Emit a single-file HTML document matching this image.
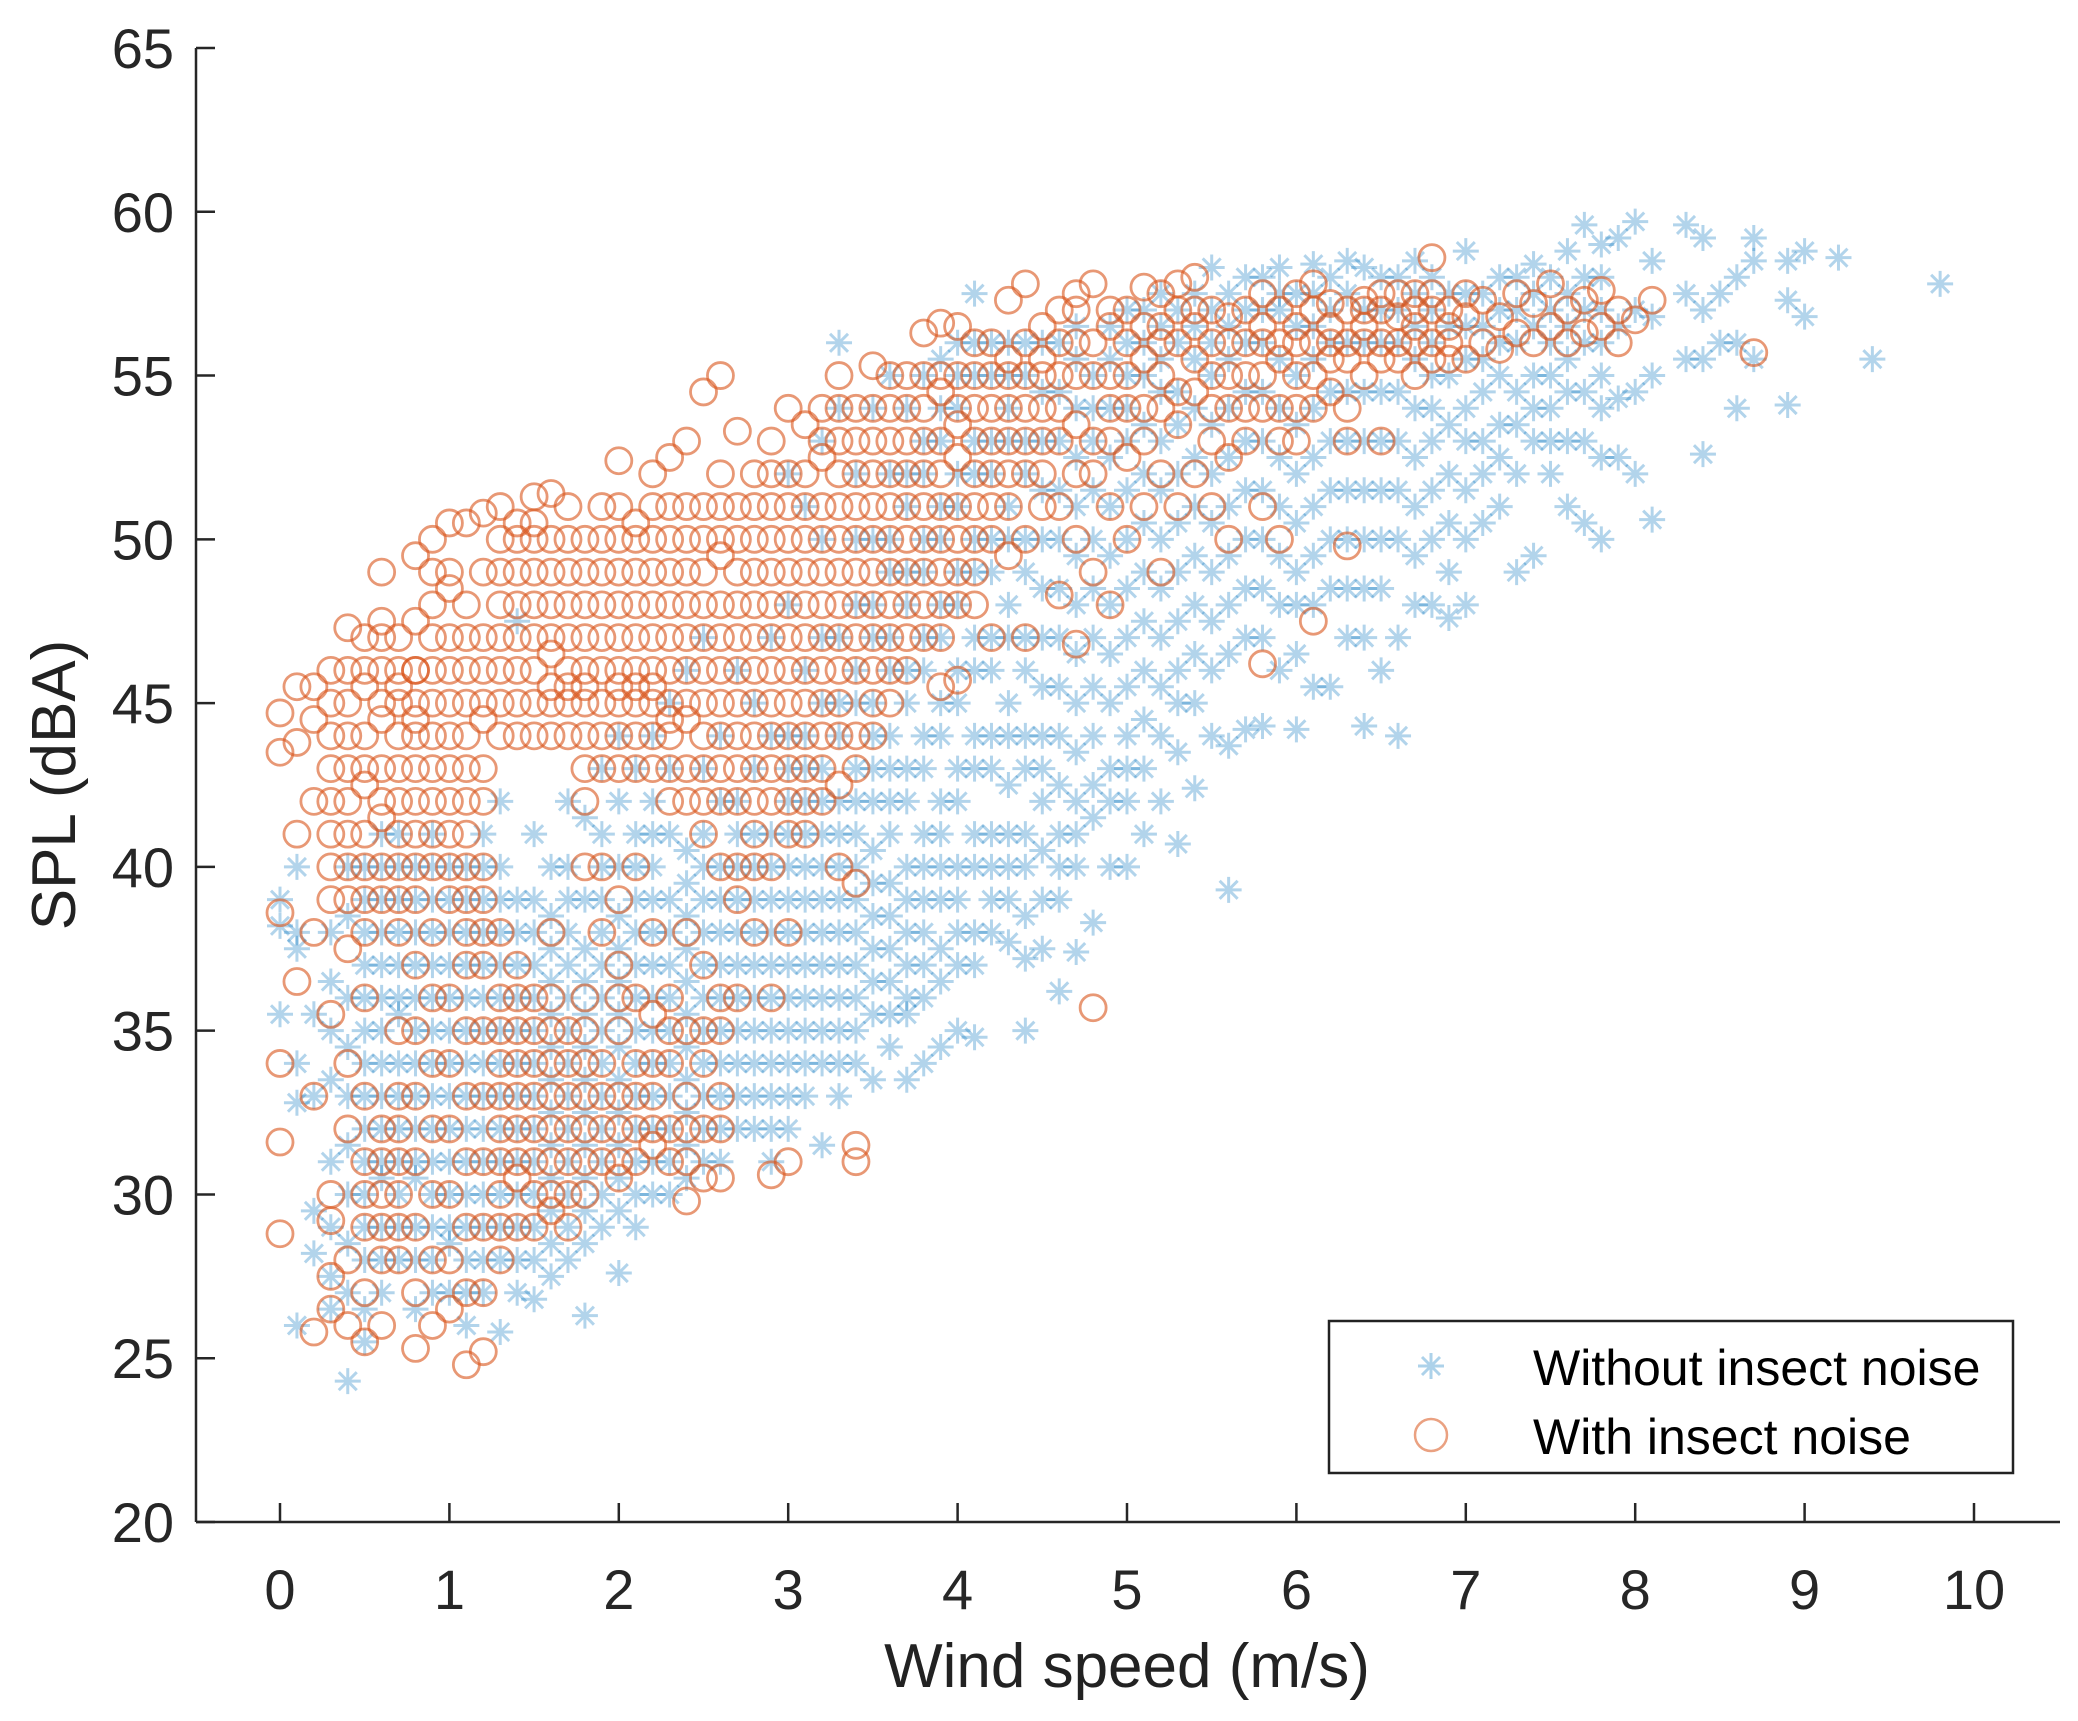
<!DOCTYPE html>
<html><head><meta charset="utf-8"><style>
html,body{margin:0;padding:0;background:#fff;}
svg{display:block;font-family:"Liberation Sans",Arial,sans-serif;}
</style></head><body>
<svg id="chart" width="2078" height="1721" viewBox="0 0 2078 1721" xmlns="http://www.w3.org/2000/svg">
<rect width="2078" height="1721" fill="#fff"/>
<g id="marks-blue"></g>
<g id="marks-orange"></g>
<g id="axes"></g>
<text x="1127" y="1687" font-size="62" text-anchor="middle" fill="#222">Wind speed (m/s)</text>
<text transform="translate(75,785) rotate(-90)" font-size="62" text-anchor="middle" fill="#222">SPL (dBA)</text>
<g>
<rect x="1329" y="1321" width="684" height="152" fill="#fff" stroke="#222" stroke-width="2.5"/>
<path d="M1431,1353V1379M1418,1366H1444M1422,1357L1440,1375M1422,1375L1440,1357" stroke="#0072BD" stroke-opacity="0.32" stroke-width="3" fill="none"/>
<text x="1533" y="1385" font-size="50" fill="#000">Without insect noise</text>
<circle cx="1431" cy="1435" r="16" fill="none" stroke="#D95319" stroke-opacity="0.55" stroke-width="2.5"/>
<text x="1533" y="1454" font-size="50" fill="#000">With insect noise</text>
</g>
</svg>
<script>
const xTicks=[0,1,2,3,4,5,6,7,8,9,10];
const yTicks=[20,25,30,35,40,45,50,55,60,65];
const blueCols=[
[0.0,[35.5,38.2,39]],[0.1,[38,40,37.5,34,32.8,26]],[0.2,[35.5,33,29.5,28.2]],[0.3,[36.5,31,27.5,26.5,33.5]],
[0.4,[24.3,27,30,38.5,36,33]],[0.5,[25.5,28,30,32,34,36,38,40,29,26.5]],[0.6,[27,29,31,33,35,37,39,41,30.5]],
[0.7,[28,30,32,34,36,38,40,35.5]],[0.8,[26.5,29,31,33,35,37,39,30.5]],[0.9,[27,29,31,33,35,37,39,41,34]],
[1.0,[27,28.5,30,32,34,36,38,40]],[1.1,[26,28,30,32,34,36,38,40,31]],[1.2,[27,29,31,33,35,37,39,41,38]],
[1.3,[25.8,28,30,32,34,36,38,40,42]],[1.4,[27,29,31,33,35,37,39,47.5]],[1.5,[26.8,29,31,33,35,37,39,41]],
[1.6,[27.5,29.5,31.5,33.5,35.5,37.5,40]],[1.7,[28,30,32,34,36,38,40,42]],[1.8,[26.3,28.5,30.5,32.5,34.5,36.5,39,41.5]],
[1.9,[29,31,33,35,37,39,41,43]],[2.0,[27.6,29.5,31.5,33.5,35.5,37.5,40,42,44]],[2.1,[29,31,33,35,37,39,41,43]],
[2.2,[30,32,34,36,38,40,42,44]],[2.3,[30,32,34,36,38,41,43,45]],[2.4,[30.5,32.5,34.5,36.5,38.5,40.5,46]],
[2.5,[31,33,35,37,39,41,43,47]],[2.6,[31,33,35,37,39,42,44]],[2.7,[32,34,36,38,40,42,46]],[2.8,[32,34,36,38,40,43,45]],
[2.9,[31,33,35,37,39,41,44,47]],[3.0,[32,34,36,38,40,42,44,48,52]],[3.1,[33,35,37,39,41,43,46,51]],
[3.2,[31.5,34,36,38,40,42,45,50,53]],[3.3,[33,35,37,39,41,44,47,54,56]],[3.4,[34,36,38,40,42,45,48,52]],
[3.5,[33.5,35.5,37.5,39.5,42,44,47,50,54]],[3.6,[34.5,36.5,38.5,41,43,46,49,52,55]],[3.7,[33.5,35.5,37,39,42,45,48,51,54]],
[3.8,[34,36,38,40,43,46,49,52,55]],[3.9,[34.5,36.5,39,41,44,47,50,53,55.5]],[4.0,[35,37,39,42,45,48,51,54,56]],
[4.1,[34.8,37,40,43,46,49,52,55,57.5]],[4.2,[38,40,43,46,49,52,55]],[4.3,[37.7,40,42.5,45,48,51,54,56]],
[4.4,[35,37.2,40,43,46,49,52,55]],[4.5,[37.5,39,42,44,47,50,53,56]],[4.6,[36.2,39,41,44,47,50,53,56]],
[4.7,[37.4,40,42,45,48,51,54,56.5]],[4.8,[38.3,41.5,44,47,50,53,55]],[4.9,[40,42,45,48,51,54,56.5]],
[5.0,[40,42,44,47,50,53,55,57]],[5.1,[41,43,46,49,52,55,57]],[5.2,[42,44,47,50,53,55.5,57.5]],
[5.3,[40.7,43.5,46,49,52,54.5,57]],[5.4,[42.4,45,48,51,54,56.5]],[5.5,[44,46,49,52,55,57,58.3]],
[5.6,[39.3,43.7,46.5,49.5,52.5,55.5,57.5]],[5.7,[44.2,47,50,53,56,58]],[5.8,[44.3,47,50,53,56,58]],
[5.9,[46,48,51,54,57,58.3]],[6.0,[44.2,46.5,49,52,55,57.5]],[6.1,[45.5,48,51,54,56.5,58.4]],
[6.2,[45.5,48.5,51.5,54.5,57]],[6.3,[47,50,53,56,58.5]],[6.4,[44.3,47,50,53,56,58.3]],[6.5,[46,48.5,51.5,54.5,57]],
[6.6,[44,47,50,53,56,58]],[6.7,[48,51,54,56.5,58.5]],[6.8,[48,50,53,55,57]],[6.9,[47.6,49,52,55,57.5]],
[7.0,[48,51.5,54,56.5,58.8]],[7.1,[50.5,53,55.5,57.5]],[7.2,[51,53.5,56,58]],[7.3,[49,52,54.5,57]],
[7.4,[49.5,53,55,57.5,58.4]],[7.5,[52,54,56,58]],[7.6,[51,54.5,56.5,58.8]],[7.7,[50.5,53,56,59.6]],
[7.8,[50,52.5,55,57,59]],[7.9,[52.5,54.3,56.5,59.2]],[8.0,[52,54.5,57,59.7]],[8.1,[50.6,55,56.8,58.5]],
[8.3,[55.5,57.5,59.6]],[8.4,[52.6,55.5,57,59.2]],[8.5,[56,57.5]],[8.6,[54,56,58]],[8.7,[55.5,58.5,59.2]],
[8.9,[54.1,57.3,58.5]],[9.0,[58.8,56.8]],[9.2,[58.6]],[9.4,[55.5]],[9.8,[57.8]]
];
const blueExtra=[
[0.3,[29,35,38]],[0.4,[28.5,31.5,34.5,40]],[0.5,[31,33,35,37,39]],[0.6,[28,32,34,36,38,40]],[0.7,[29,31,33,37,39,41]],
[0.8,[28,32,34,36,38,40]],[0.9,[28,30,32,36,38,40]],[1.0,[29,31,33,35,37,39]],[1.1,[27,29,33,35,37,39]],
[1.2,[28,30,32,34,36,40]],[1.3,[29,31,33,35,37,39]],[1.4,[28,30,32,34,36,38]],[1.5,[28,30,32,34,36,38]],
[1.6,[28.5,30.5,32.5,34.5,36.5,38.5]],[1.7,[29,31,33,35,37,39]],[1.8,[29.5,31.5,33.5,35.5,37.5]],[1.9,[30,32,34,36,38,40]],
[2.0,[30.5,32.5,34.5,36.5,38.5]],[2.1,[30,32,34,36,38,40]],[2.2,[31,33,35,37,39,41]],[2.3,[31,33,35,37,39]],
[2.4,[31.5,33.5,35.5,37.5,39.5]],[2.5,[32,34,36,38,40]],[2.6,[32,34,36,38,40]],[2.7,[33,35,37,39,41]],[2.8,[33,35,37,39,41]],
[2.9,[32,34,36,38,40]],[3.0,[33,35,37,39,41,43]],[3.1,[34,36,38,40,42,44]],[3.2,[35,37,39,41,43,47]],[3.3,[34,36,38,40,42,45]],
[3.4,[35,37,39,41,43,46,50]],[3.5,[36.5,38.5,40.5,43,45,48]],[3.6,[35.5,37.5,39.5,42,44,47,50]],[3.7,[36,38,40,43,46,49,52]],
[3.8,[37,39,41,44,47,50,53]],[3.9,[37.5,40,42,45,48,51,54]],[4.0,[38,40,43,46,49,52,55]],[4.1,[38,41,44,47,50,53,56]],
[4.2,[39,41,44,47,50,53,56]],[4.3,[39,41,44,47,50,53,55]],[4.4,[38.5,41,44,47,50,53,56]],[4.5,[40.5,43,45.5,48.5,51.5,54.5]],
[4.6,[40,42.5,45.5,48.5,51.5,54.5]],[4.7,[41,43.5,46.5,49.5,52.5,55.5]],[4.8,[42.5,45.5,48.5,51.5,54]],[4.9,[43,46.5,49.5,52.5,55.5]],
[5.0,[43,45.5,48.5,51.5,54,56]],[5.1,[44.5,47.5,50.5,53.5,56]],[5.2,[45.5,48.5,51.5,54.5,56.5]],[5.3,[45,47.5,50.5,53.5,56]],
[5.4,[46.5,49.5,52.5,55.5,57.5]],[5.5,[47.5,50.5,53.5,56]],[5.6,[48,51,54,56.5]],[5.7,[48.5,51.5,54.5,57]],
[5.8,[48.5,51.5,54.5,57]],[5.9,[49.5,52.5,55.5,57.5]],[6.0,[48,50.5,53.5,56.5]],[6.1,[49.5,52.5,55.5,57.5]],
[6.2,[50,53,56,58]],[6.3,[48.5,51.5,54.5,57.5]],[6.4,[48.5,51.5,54.5,57]],[6.5,[50,53,56,58]],[6.6,[51.5,54.5,57]],
[6.7,[49.5,52.5,55.5,57.5]],[6.8,[51.5,54,56,58]],[6.9,[50.5,53.5,56.5]],[7.0,[50,53,55.5,57.5]],[7.1,[52,54.5,56.5]],
[7.2,[52.5,55,57]],[7.3,[53.5,56,58]],[7.4,[54,56.5]],[7.5,[53,55,57]],[7.6,[53,55.5,57.5]],[7.7,[54.5,57,58]],[7.8,[54,56,58]]
];
const orangeCols=[
[0.0,[28.8,31.6,34,38.6,43.5,44.7]],[0.1,[36.5,41,43.8,45.5]],[0.2,[25.8,33,38,42,44.5,45.5]],
[0.3,[26.5,27.5,29.2,30,35.5,39,41,43,45,46]],[0.4,[26,28,32,34,37.5,40,42,44,46,47.3]],
[0.5,[25.5,27,29,31,36,39,41,42.5,44,45.5,47]],[0.6,[26,28,30,32,40,41.5,43,44.5,46,47.5,49]],
[0.7,[28,30,32,38,40,42,44,45.5,47]],[0.8,[25.3,27,29,31,33,35,37,39,41,43,44.5,46,47.5,49.5]],
[0.9,[26,28,30,32,34,36,38,40,42,44,46,48,50]],[1.0,[26.5,28,30,32,34,36,39,41,43,45,48.5,50.5]],
[1.1,[24.8,27,29,31,33,35,37,39,41,43,45,47,50.5]],[1.2,[25.2,27,29,31,33,35,37,39,42,44.5,46,50.8]],
[1.3,[28,30,32,34,36,38,44,46,48,51]],[1.4,[29,30.5,33,35,37,45,47,49,50.5]],[1.5,[29,30,32,34,36,44,46,48,50,51.3]],
[1.6,[29.5,31,33,35,38,44,45,47,50,51.4]],[1.7,[29,31,33,35,44,45,47,49,51]],[1.8,[30,32,34,36,40,42,44,45,46,48,50]],
[1.9,[31,33,38,40,43,45,47,49,51]],[2.0,[30.5,32,35,37,39,44,45,46,48,50,52.4]],[2.1,[31,33,36,40,44,45,47,49,50.5]],
[2.2,[31.5,33,35.5,38,44,45,46,48,50,52]],[2.3,[31,34,36,42,44,45,47,49,51,52.5]],[2.4,[29.8,32,35,38,43,44.5,46,48,50,53]],
[2.5,[30.5,34,37,41,43,45,47,49,51,54.5]],[2.6,[30.5,33,36,40,43,45,47,49.5,52,55]],[2.7,[36,39,42,44,46,48,50,53.3]],
[2.8,[38,40,42,44,46,48,50,52]],[2.9,[30.6,36,40,43,45,47,49,51,53]],[3.0,[31,38,41,43,45,47,49,51,54]],
[3.1,[41,43,45,47,49,51,53.5]],[3.2,[42,44,46,48,50,52.5,54]],[3.3,[40,42.5,45,47,49,51,53,55]],
[3.4,[31,31.5,39.5,43,46,48,50,52,54]],[3.5,[44,46,48,50,52,55.3]],[3.6,[45,47,49,51,53,55]],[3.7,[46,48,50,52,54]],
[3.8,[47,49,51,53,55,56.3]],[3.9,[45.5,48,50,52,54.5,56.6]],[4.0,[45.7,48,50,52.5,55,56.5]],[4.1,[48,51,53,55]],
[4.2,[47,50,52,54,56]],[4.3,[49.5,52,54,55.5,57.3]],[4.4,[47,50,53,55,57.8]],[4.5,[51,53,55,56.5]],[4.6,[48.3,51,54,56]],
[4.7,[46.8,50,53.5,56,57.5]],[4.8,[35.7,49,52,55,57.8]],[4.9,[48,51,54,56.5]],[5.0,[50,52.5,55,57]],[5.1,[51,53,55.5,57.7]],
[5.2,[49,52,54,56,57.5]],[5.3,[51,53.5,56,57.8]],[5.4,[52,54.5,56.5,58]],[5.5,[51,53,55,57]],[5.6,[50,52.5,55,56.8]],
[5.7,[53,55,57]],[5.8,[46.2,51,54,56,57.5]],[5.9,[50,53,55.5,57]],[6.0,[53,55,56.5,57.5]],[6.1,[47.5,54,56,57.8]],
[6.2,[54.5,56,57.2]],[6.3,[49.8,53,55.5,57]],[6.4,[55,56.5,57.3]],[6.5,[53,55.5,57]],[6.6,[55.5,56.8]],[6.7,[55,56.5,57.5]],
[6.8,[55.5,57,58.6]],[6.9,[56,57]],[7.0,[55.5,56.8,57.5]],[7.1,[56,57.3]],[7.2,[55.8,56.8]],[7.3,[56.3,57.5]],
[7.4,[56,57.2]],[7.5,[56.5,57.8]],[7.6,[56,57]],[7.7,[56.3,57.3]],[7.8,[56.5,57.6]],[7.9,[56,57]],[8.0,[56.7]],
[8.1,[57.3]],[8.7,[55.7]]
];
const orangeExtra=[
[0.3,[40,42,44]],[0.4,[39,41,43,45]],[0.5,[38,40,43,46,30,33]],[0.6,[39,42,45,47,29,31]],[0.7,[39,41,43,45,46,29,31,33,35]],
[0.8,[40,42,44,45,46]],[0.9,[41,43,45,47,49]],[1.0,[40,42,44,46,47,49]],[1.1,[38,40,42,44,46,48]],[1.2,[38,40,43,45,47,49]],
[1.3,[29,31,33,35,45,47,49,50]],[1.4,[31,32,34,36,44,46,48,50]],[1.5,[31,33,35,45,47,49,50.5]],[1.6,[30,32,34,36,45.5,46.5,48,49]],
[1.7,[30,32,34,45.5,46,48,50]],[1.8,[31,33,35,43,45.5,47,49]],[1.9,[32,34,44,46,48,50]],[2.0,[31,33,36,43,45.5,47,49,51]],
[2.1,[32,34,43,45.5,46,48,50]],[2.2,[32,34,43,45.5,47,49,51]],[2.3,[32,35,43,44.5,46,48,50]],[2.4,[31,33,42,45,47,49,51]],
[2.5,[32,35,42,44,46,48,50]],[2.6,[32,35,42,44,46,48,50,51]],[2.7,[40,43,45,47,49,51]],[2.8,[41,43,45,47,49,51]],
[2.9,[42,44,46,48,50,52]],[3.0,[42,44,46,48,50,52]],[3.1,[42,44,46,48,50,52]],[3.2,[43,45,47,49,51,53]],[3.3,[44,46,48,50,52,54]],
[3.4,[44,47,49,51,53]],[3.5,[45,47,49,51,53,54]],[3.6,[46,48,50,52,54]],[3.7,[47,49,51,53,55]],[3.8,[48,50,52,54]],
[3.9,[47,49,51,53,55]],[4.0,[49,51,53.5,54]],[4.1,[49,50,52,54,56]],[4.2,[51,53,55]],[4.3,[51,53,55]],[4.4,[52,54,56]],
[4.5,[52,54,55.5]],[4.6,[53,55,57]],[4.7,[52,55,57]],[4.8,[53,56]],[4.9,[53,55,57]],[5.0,[54,56]],[5.1,[54,56.5]],
[5.2,[55,56.5]],[5.3,[54.5,57]],[5.4,[55.5,57]],[5.5,[54,56]],[5.6,[54,56]],[5.7,[54,56]],[5.8,[55,56.5]],[5.9,[54,56]],
[6.0,[54,56]],[6.1,[55,57]],[6.2,[55.5,56.5]],[6.3,[54,56]],[6.4,[56,57]],[6.5,[56,57.5]],[6.6,[56,57.5]],[6.7,[56,57]],
[6.8,[56,57.5]],[6.9,[55.5,56.5]]
];
const NS='http://www.w3.org/2000/svg';
const X0=280,X10=1974,Y20=1522,Y65=48;
function sx(v){return X0+(X10-X0)*v/10;}
function sy(v){return Y20-(Y20-Y65)*(v-20)/45;}
function mk(tag,attrs,parent){const e=document.createElementNS(NS,tag);for(const k in attrs)e.setAttribute(k,attrs[k]);parent.appendChild(e);return e;}
const ax=document.getElementById('axes');
let l=mk('line',{x1:196,y1:48,x2:196,y2:Y20,stroke:'#262626','stroke-width':2.5},ax);


l=mk('line',{x1:196,y1:Y20,x2:2060,y2:Y20,stroke:'#262626','stroke-width':2.5},ax);


xTicks.forEach(t=>{
 const tk=mk('line',{x1:sx(t),y1:Y20,x2:sx(t),y2:Y20-19,stroke:'#262626','stroke-width':2.5},ax);
 
 
 const tx=mk('text',{x:sx(t),y:1609,'font-size':56,'text-anchor':'middle',fill:'#262626'},ax);
 tx.textContent=t;
 
 
});
yTicks.forEach(t=>{
 const tk=mk('line',{x1:196,y1:sy(t),x2:215,y2:sy(t),stroke:'#262626','stroke-width':2.5},ax);
 
 
 const tx=mk('text',{x:174,y:sy(t)+20,'font-size':56,'text-anchor':'end',fill:'#262626'},ax);
 tx.textContent=t;
 
 
});
const gb=document.getElementById('marks-blue');
blueCols.concat(blueExtra).forEach(([x,ys])=>ys.forEach(y=>{
 const cx=sx(x),cy=sy(y);
 const p=mk('path',{d:`M${cx},${cy-13}V${cy+13}M${cx-13},${cy}H${cx+13}M${cx-9},${cy-9}L${cx+9},${cy+9}M${cx-9},${cy+9}L${cx+9},${cy-9}`,stroke:'#0072BD','stroke-opacity':0.3,'stroke-width':3,fill:'none'},gb);
 
 
}));
const go=document.getElementById('marks-orange');
orangeCols.concat(orangeExtra).forEach(([x,ys])=>ys.forEach(y=>{
 const c=mk('circle',{cx:sx(x),cy:sy(y),r:13,fill:'none',stroke:'#D95319','stroke-opacity':0.6,'stroke-width':2.8},go);
 
 
}));
</script>
</body></html>
